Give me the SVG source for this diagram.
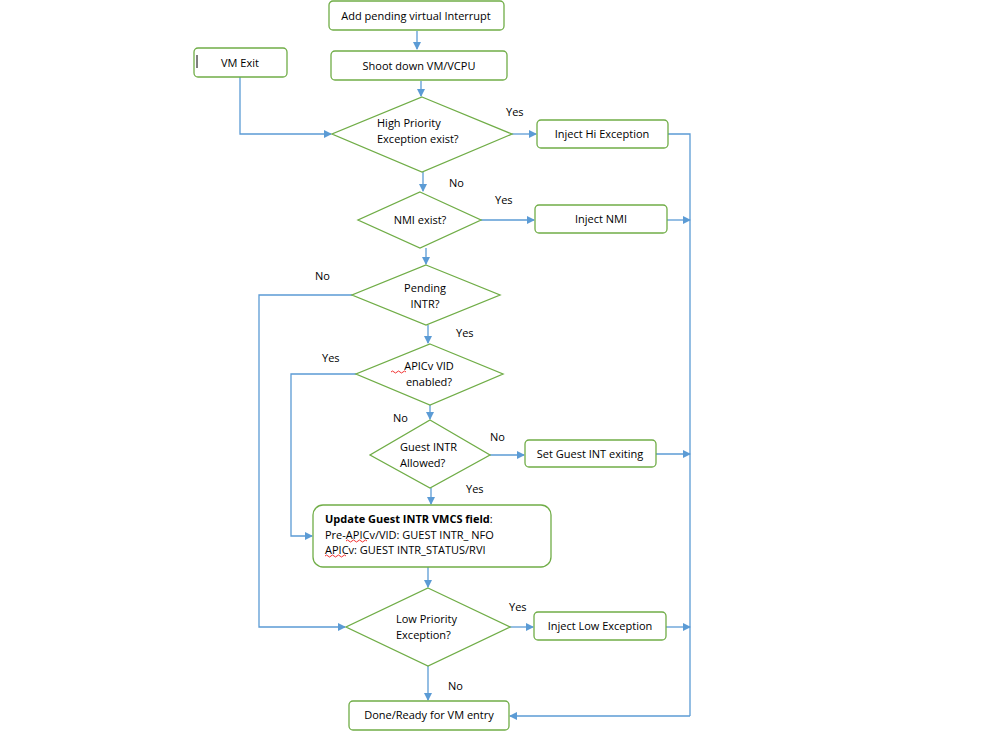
<svg xmlns="http://www.w3.org/2000/svg" width="1008" height="752" viewBox="0 0 1008 752">
<defs>
<marker id="a" markerWidth="8" markerHeight="8" refX="7" refY="4" orient="auto" markerUnits="userSpaceOnUse"><path d="M0,0 L8,4 L0,8 z" fill="#5b9bd5"/></marker>
<style>
.n{fill:#fff;stroke:#70ad47;stroke-width:1.3}
.t{font-family:"Open Sans","Liberation Sans",sans-serif;font-size:11px;fill:#000}
.c{fill:none;stroke:#5b9bd5;stroke-width:1.3}
.c.m{marker-end:url(#a)}
</style>
</defs>
<rect width="1008" height="752" fill="#fff"/>
<g id="connectors">
<path class="c m" d="M417,31 V49"/>
<path class="c m" d="M421,81 V96"/>
<path class="c m" d="M240,77 V134 H331"/>
<path class="c m" d="M512,134 H536"/>
<path class="c m" d="M423,172 V191"/>
<path class="c m" d="M481,220 H534"/>
<path class="c m" d="M426,248 V264"/>
<path class="c m" d="M352,295 H259 V627 H345"/>
<path class="c m" d="M428,325 V343"/>
<path class="c m" d="M356,374 H291 V536 H312"/>
<path class="c m" d="M430,405 V419"/>
<path class="c m" d="M490,455 H524"/>
<path class="c m" d="M431,488 V504"/>
<path class="c m" d="M428,567 V587"/>
<path class="c m" d="M510,627 H533"/>
<path class="c m" d="M428,666 V700"/>
<path class="c" d="M668,134 H690 V716"/>
<path class="c m" d="M690,716 H510"/>
<path class="c m" d="M667,220 H690"/>
<path class="c m" d="M656,454 H690"/>
<path class="c m" d="M666,627 H690"/>
</g>
<g id="labels" class="t">
<text x="506" y="116">Yes</text>
<text x="449" y="187">No</text>
<text x="495" y="204">Yes</text>
<text x="315" y="280">No</text>
<text x="456" y="337">Yes</text>
<text x="322" y="362">Yes</text>
<text x="393" y="422">No</text>
<text x="490" y="441">No</text>
<text x="466" y="493">Yes</text>
<text x="509" y="611">Yes</text>
<text x="448" y="690">No</text>
</g>
<g id="add"><rect class="n" x="329" y="1" width="175" height="29" rx="4"/><text class="t" x="416" y="20" text-anchor="middle">Add pending virtual Interrupt</text></g>
<g id="shoot"><rect class="n" x="331" y="51" width="176" height="29" rx="4"/><text class="t" x="419" y="70" text-anchor="middle">Shoot down VM/VCPU</text></g>
<g id="vmexit"><rect class="n" x="194" y="48" width="93" height="29" rx="4"/><line x1="197" y1="55" x2="197" y2="68" stroke="#000"/><text class="t" x="240" y="67" text-anchor="middle">VM Exit</text></g>
<g id="hipri"><polygon class="n" points="422,97 512,134 422,172 332,134"/><text class="t" x="377" y="127">High Priority</text><text class="t" x="377" y="143">Exception exist?</text></g>
<g id="injhi"><rect class="n" x="537" y="120" width="131" height="28" rx="4"/><text class="t" x="602" y="138" text-anchor="middle">Inject Hi Exception</text></g>
<g id="nmi"><polygon class="n" points="420,192 481,220 420,248 358,220"/><text class="t" x="420" y="224" text-anchor="middle">NMI exist?</text></g>
<g id="injnmi"><rect class="n" x="535" y="205" width="132" height="28" rx="4"/><text class="t" x="601" y="223" text-anchor="middle">Inject NMI</text></g>
<g id="pending"><polygon class="n" points="426,265 500,295 426,325 352,295"/><text class="t" x="425" y="292" text-anchor="middle">Pending</text><text class="t" x="425" y="308" text-anchor="middle">INTR?</text></g>
<g id="apicv"><polygon class="n" points="430,344 503,374 430,405 356,374"/><text class="t" x="429" y="370" text-anchor="middle">APICv VID</text><text class="t" x="429" y="386" text-anchor="middle">enabled?</text><path d="M391,372 q1.5,-2 3,0 t3,0 t3,0 t3,0 t3,0" fill="none" stroke="#e00" stroke-width="0.8"/></g>
<g id="guest"><polygon class="n" points="430,420 490,455 430,488 370,455"/><text class="t" x="400" y="451">Guest INTR</text><text class="t" x="400" y="467">Allowed?</text></g>
<g id="setguest"><rect class="n" x="525" y="440" width="131" height="27" rx="4"/><text class="t" x="590" y="458" text-anchor="middle">Set Guest INT exiting</text></g>
<g id="update"><rect class="n" x="313" y="505" width="238" height="62" rx="10"/><text class="t" x="325" y="523" font-weight="bold">Update Guest INTR VMCS field<tspan font-weight="normal">:</tspan></text><text class="t" x="325" y="539">Pre-APICv/VID: GUEST INTR_ NFO</text><text class="t" x="325" y="554">APICv: GUEST INTR_STATUS/RVI</text><path d="M346,541 q1.5,-2 3,0 t3,0 t3,0 t3,0 t3,0 t3,0 t3,0 M325,556 q1.5,-2 3,0 t3,0 t3,0 t3,0 t3,0 t3,0 t3,0" fill="none" stroke="#e00" stroke-width="0.8"/></g>
<g id="low"><polygon class="n" points="428,588 510,627 428,666 346,627"/><text class="t" x="396" y="623">Low Priority</text><text class="t" x="396" y="639">Exception?</text></g>
<g id="injlow"><rect class="n" x="534" y="612" width="132" height="28" rx="4"/><text class="t" x="600" y="630" text-anchor="middle">Inject Low Exception</text></g>
<g id="done"><rect class="n" x="349" y="701" width="160" height="29" rx="4"/><text class="t" x="429" y="719" text-anchor="middle">Done/Ready for VM entry</text></g>
</svg>
